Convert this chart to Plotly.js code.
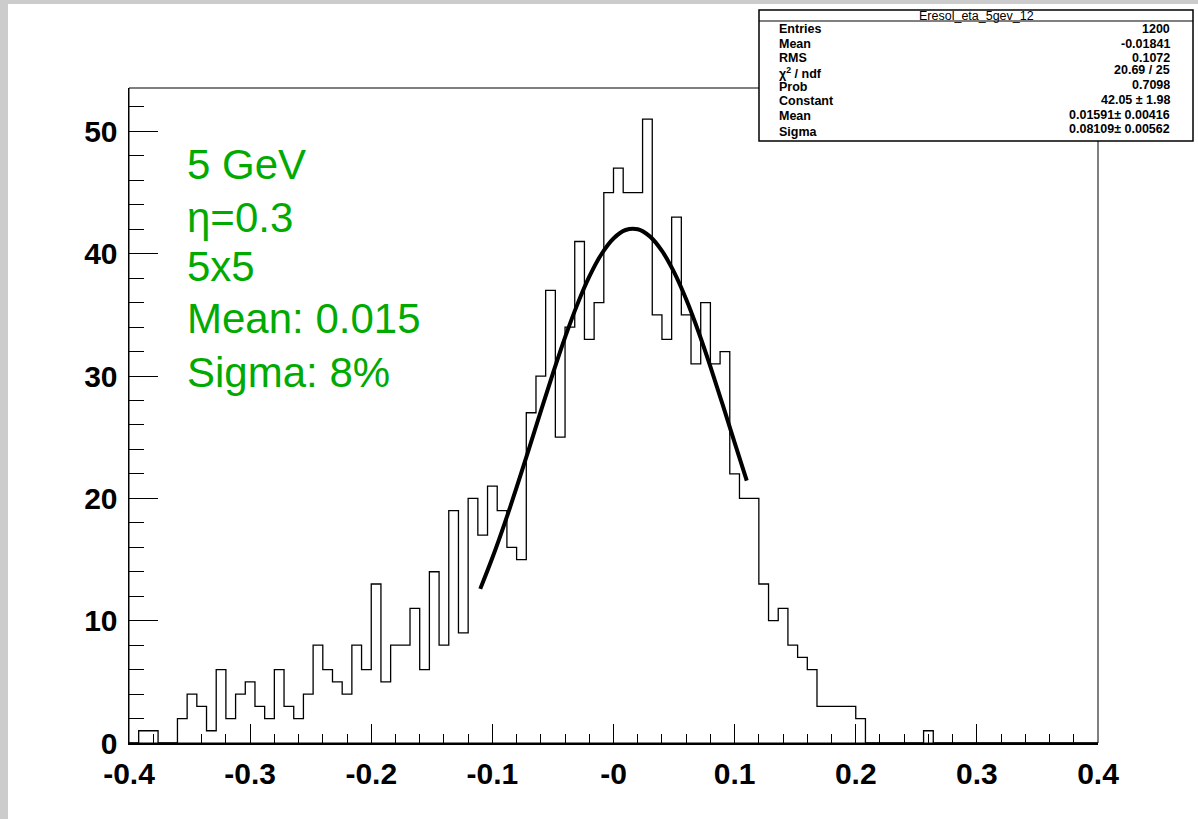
<!DOCTYPE html>
<html>
<head>
<meta charset="utf-8">
<script src="https://cdn.plot.ly/plotly-3.0.1.min.js"></script>
<style>
  html, body { margin: 0; padding: 0; background: #cccccc; overflow: hidden; }
  #chart { position: absolute; left: 8px; top: 4px; width: 1190px; height: 815px; background: #ffffff; }
</style>
</head>
<body>
<div id="chart"></div>
<script>
// ---- Histogram definition (100 bins from -0.4 to 0.4) ----
const binLow = -0.4;
const binWidth = 0.008;
const counts = [
  0, 1, 1, 0, 0, 2, 4, 3, 1, 6,
  2, 4, 5, 3, 2, 6, 3, 2, 4, 8,
  6, 5, 4, 8, 6, 13, 5, 8, 8, 11,
  6, 14, 8, 19, 9, 20, 17, 21, 19, 16,
  15, 27, 30, 37, 25, 34, 41, 33, 36, 45,
  47, 45, 45, 51, 35, 33, 43, 35, 31, 36,
  31, 32, 22, 20, 20, 13, 10, 11, 8, 7,
  6, 3, 3, 3, 3, 2, 0, 0, 0, 0,
  0, 0, 1, 0, 0, 0, 0, 0, 0, 0,
  0, 0, 0, 0, 0, 0, 0, 0, 0, 0
];

// ---- Gaussian fit curve ----
const fitX = [-0.11, -0.10, -0.09, -0.08, -0.07, -0.06, -0.05, -0.04, -0.03, -0.02, -0.01, 0.00,
              0.01, 0.02, 0.03, 0.04, 0.05, 0.06, 0.07, 0.08, 0.09, 0.10, 0.11];
const fitY = [12.60, 15.14, 17.92, 20.89, 23.99, 27.13, 30.22, 33.16, 35.82, 38.12, 39.96, 41.25,
              41.94, 42.00, 41.42, 40.23, 38.49, 36.27, 33.66, 30.77, 27.70, 24.56, 21.45];

// ---- Axis ticks ----
const xTickVals = [-0.4, -0.3, -0.2, -0.1, 0, 0.1, 0.2, 0.3, 0.4];
const xTickText = ['-0.4', '-0.3', '-0.2', '-0.1', '-0', '0.1', '0.2', '0.3', '0.4'];
const yTickVals = [0, 10, 20, 30, 40, 50];
const yTickText = ['0', '10', '20', '30', '40', '50'];

// ---- Text ----
const labelLines = ['5 GeV', '\u03b7=0.3', '5x5', 'Mean: 0.015', 'Sigma: 8%'];
const statsTitle = 'Eresol_eta_5gev_12';
const statsNames = ['Entries', 'Mean', 'RMS', '\u03c7<sup>2</sup> / ndf', 'Prob', 'Constant', 'Mean', 'Sigma'];
const statsValues = ['1200', '-0.01841', '0.1072', '20.69 / 25', '0.7098', '42.05 \u00b1 1.98',
                     '0.01591\u00b1 0.00416', '0.08109\u00b1 0.00562'];

// Build step outline from the bins
const stepX = [binLow];
const stepY = [0];
for (let i = 0; i < counts.length; i++) {
  stepX.push(binLow + i * binWidth);
  stepY.push(counts[i]);
}
stepX.push(binLow + counts.length * binWidth);
stepY.push(counts[counts.length - 1]);
stepX.push(binLow + counts.length * binWidth);
stepY.push(0);

// ---- Geometry (page pixels) ----
const divLeft = 8, divTop = 4, W = 1190, H = 815;
const plotL = 129, plotR = 1098, plotT = 88, plotB = 743;
const margin = { l: plotL - divLeft, r: (divLeft + W) - plotR, t: plotT - divTop, b: (divTop + H) - plotB, pad: 0 };
function px(x) { return (x - plotL) / (plotR - plotL); }
function py(y) { return (plotB - y) / (plotB - plotT); }

const green = '#00aa00';
const annotations = [];
const labelYs = [164, 217, 266, 318, 372];
labelLines.forEach((t, i) => {
  annotations.push({
    xref: 'paper', yref: 'paper', x: px(185), y: py(labelYs[i]),
    xanchor: 'left', yanchor: 'middle', showarrow: false, text: t,
    font: { family: 'Liberation Sans, Arial, sans-serif', size: 42, color: green }
  });
});

// Stats box
const boxL = 759, boxR = 1193, boxT = 10, boxB = 141, sepY = 21;
annotations.push({
  xref: 'paper', yref: 'paper', x: px((boxL + boxR) / 2), y: py(15.5),
  xanchor: 'center', yanchor: 'middle', showarrow: false, text: statsTitle,
  font: { family: 'Liberation Sans, Arial, sans-serif', size: 12.5, color: '#000' }
});
const nameYs = [28.5, 43.5, 58, 73, 87, 101, 116.5, 132];
const valYs = [28.5, 43.5, 58, 70, 85, 100, 115, 129];
statsNames.forEach((t, i) => {
  annotations.push({
    xref: 'paper', yref: 'paper', x: px(777), y: py(nameYs[i]),
    xanchor: 'left', yanchor: 'middle', showarrow: false, text: '<b>' + t + '</b>',
    font: { family: 'Liberation Sans, Arial, sans-serif', size: 12.5, color: '#000' }
  });
  annotations.push({
    xref: 'paper', yref: 'paper', x: px(1172), y: py(valYs[i]),
    xanchor: 'right', yanchor: 'middle', showarrow: false, text: '<b>' + statsValues[i] + '</b>',
    font: { family: 'Liberation Sans, Arial, sans-serif', size: 12.5, color: '#000' }
  });
});

const shapes = [
  // frame box (thin)
  { type: 'rect', xref: 'paper', yref: 'paper', x0: 0, x1: 1, y0: 0, y1: 1,
    line: { color: '#000', width: 1 }, fillcolor: 'rgba(0,0,0,0)', layer: 'above' },
  // stats box
  { type: 'rect', xref: 'paper', yref: 'paper', x0: px(boxL), x1: px(boxR), y0: py(boxB), y1: py(boxT),
    line: { color: '#000', width: 1.5 }, fillcolor: '#ffffff', layer: 'above' },
  { type: 'line', xref: 'paper', yref: 'paper', x0: px(boxL), x1: px(boxR), y0: py(sepY), y1: py(sepY),
    line: { color: '#000', width: 1 }, layer: 'above' }
];

const traces = [
  {
    type: 'scatter', mode: 'lines', x: stepX, y: stepY,
    line: { shape: 'hv', color: '#000', width: 1.3 },
    hoverinfo: 'skip', cliponaxis: true
  },
  {
    type: 'scatter', mode: 'lines', x: fitX, y: fitY,
    line: { shape: 'spline', color: '#000', width: 4 },
    hoverinfo: 'skip'
  }
];

const tickFont = { family: 'Liberation Sans, Arial, sans-serif', size: 30, color: '#000', weight: 'bold' };

const layout = {
  width: W, height: H,
  margin: margin,
  paper_bgcolor: '#ffffff',
  plot_bgcolor: '#ffffff',
  showlegend: false,
  xaxis: {
    range: [-0.4, 0.4], autorange: false,
    tickmode: 'array', tickvals: xTickVals, ticktext: xTickText,
    ticks: 'inside', ticklen: 19, tickwidth: 1, tickcolor: '#000',
    minor: { tickmode: 'linear', tick0: -0.4, dtick: 0.02, ticks: 'inside', ticklen: 9, tickwidth: 1, tickcolor: '#000', showgrid: false },
    showline: true, linecolor: '#000', linewidth: 1.5, mirror: false,
    showgrid: false, zeroline: false,
    tickfont: tickFont, ticklabelstandoff: 3
  },
  yaxis: {
    range: [0, 53.55], autorange: false,
    tickmode: 'array', tickvals: yTickVals, ticktext: yTickText,
    ticks: 'inside', ticklen: 29, tickwidth: 1, tickcolor: '#000',
    minor: { tickmode: 'linear', tick0: 0, dtick: 2, ticks: 'inside', ticklen: 15, tickwidth: 1, tickcolor: '#000', showgrid: false },
    showline: true, linecolor: '#000', linewidth: 1.5, mirror: false,
    showgrid: false, zeroline: false,
    tickfont: tickFont, ticklabelstandoff: 4
  },
  annotations: annotations,
  shapes: shapes
};

Plotly.newPlot('chart', traces, layout, { displayModeBar: false, staticPlot: true });
</script>
</body>
</html>
